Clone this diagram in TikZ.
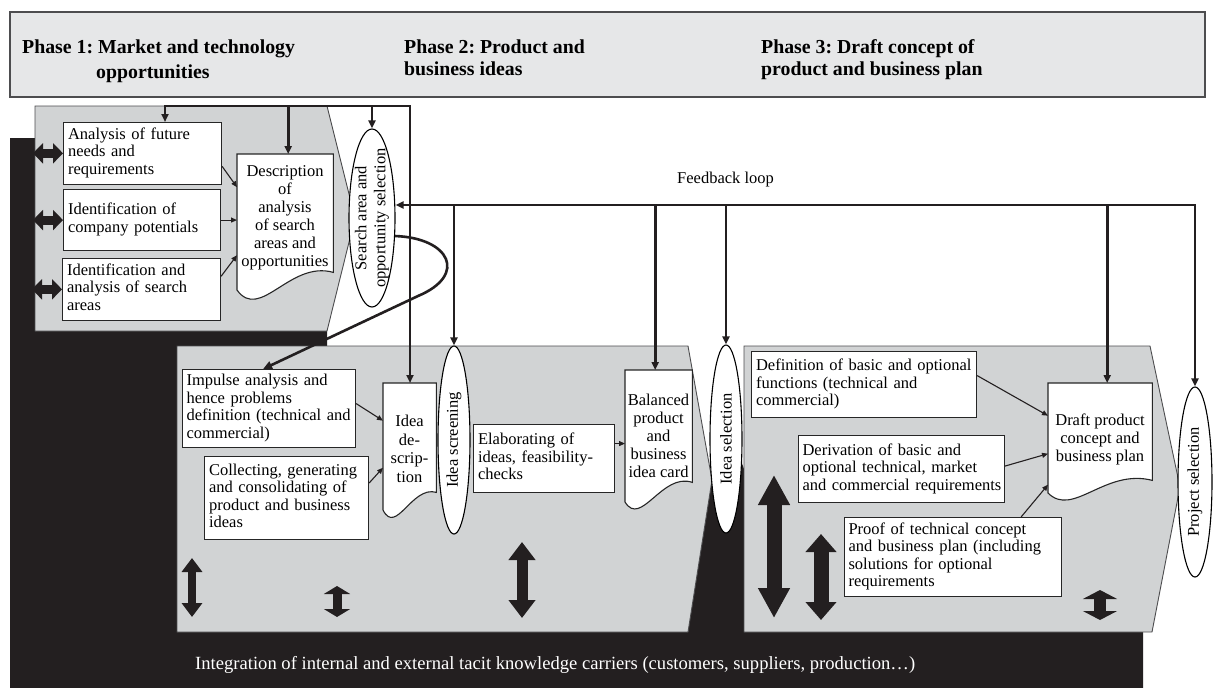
\documentclass[tikz,border=0pt]{standalone}
\usepackage{fontspec}
\usepackage{graphicx}
\setmainfont{Liberation Serif}
\usetikzlibrary{shapes.geometric,arrows.meta}
\definecolor{inkblack}{HTML}{231F20}
\definecolor{panelgrey}{HTML}{D1D3D4}
\definecolor{headgrey}{HTML}{E6E7E8}
\definecolor{edgegrey}{HTML}{4D4D4F}
\newcommand{\bodyfont}{\fontsize{16.5}{17.5}\selectfont}
\newcommand{\docfont}{\fontsize{16.5}{18}\selectfont}
\newcommand{\gatefont}{\fontsize{16.5}{19}\selectfont}
\newcommand{\headfont}{\fontsize{19.8}{22}\selectfont\bfseries}
% left-aligned lines that never wrap
\newcommand{\boxlines}[1]{\begin{tabular}{@{}l@{}}#1\end{tabular}}
\begin{document}
\frenchspacing
\begin{tikzpicture}[x=1pt,y=-1pt,
  panel/.style={fill=panelgrey, draw=edgegrey, line width=0.9pt},
  txtbox/.style={draw=black!85, fill=white, line width=1.1pt, anchor=north west,
    align=left, inner sep=4.5pt, font=\bodyfont},
  docbox/.style={draw=none, anchor=north west, inner sep=0pt},
  docline/.style={draw=black!85, fill=white, line width=1.1pt},
  doctext/.style={align=center, font=\docfont, inner sep=0pt},
  gate/.style={ellipse, draw=black, fill=white, line width=1.1pt, inner sep=0pt},
  gatetext/.style={font=\gatefont, inner sep=0pt},
  fbline/.style={draw=inkblack, line width=2.6pt},
  fbarrow/.style={fbline, -{Triangle[length=8pt,width=7pt]}},
  link/.style={draw=inkblack, line width=1.1pt, -{Triangle[length=6pt,width=5pt]}},
  dbl/.style n args={3}{draw=inkblack, line width=#1,
    {Triangle[length=#2,width=#3]}-{Triangle[length=#2,width=#3]}},
  headtext/.style={font=\headfont, anchor=base west, inner sep=0pt},
]
\useasboundingbox (0,0) rectangle (1216,688);

% black band of tacit knowledge carriers
\fill[inkblack] (10,138) -- (40,138) -- (40,320) -- (327,320) -- (327,346.5)
  -- (200,346.5) -- (200,620) -- (650,620) -- (650,490) -- (712,480)
  -- (727,420) -- (745,472) -- (750,472) -- (750,620) -- (1143,620)
  -- (1143,688) -- (10,688) -- cycle;

% phase panels
\path[panel] (35,106) -- (327,106) -- (355,218) -- (327,331) -- (35,331) -- cycle;
\path[panel] (177,346) -- (688,346) -- (712,480) -- (688,632) -- (177,632) -- cycle;
\path[panel] (744,346) -- (1150,346) -- (1180,487) -- (1152,632) -- (744,632) -- cycle;

% header
\path[draw=edgegrey, fill=headgrey, line width=1.3pt] (10,12) rectangle (1205,97);
\node[headtext] (ph1a) at (22,53) {Phase 1: Market and technology};
\node[headtext] (ph1b) at (96,78) {opportunities};
\node[headtext] (ph2a) at (404,53) {Phase 2: Product and};
\node[headtext] (ph2b) at (404,75) {business ideas};
\node[headtext] (ph3a) at (761,53) {Phase 3: Draft concept of};
\node[headtext] (ph3b) at (761,75) {product and business plan};

% phase 1 boxes
\node[txtbox, text width=149pt, minimum height=60pt] (a1) at (63,122)
  {\boxlines{Analysis of future\\needs and\\requirements}};
\node[txtbox, text width=148pt, minimum height=61pt] (a2) at (63,189)
  {\boxlines{Identification of\\company potentials}};
\node[txtbox, text width=149pt, minimum height=61pt] (a3) at (62,258)
  {\boxlines{Identification and\\analysis of search\\areas}};

\node[docbox, minimum width=96pt, minimum height=118pt] (desc) at (237,154) {};
\path[docline] (desc.north west) -- (desc.north east) -- (desc.south east)
  .. controls (290,260) and (260,322) .. (237,290) -- cycle;
\node[doctext] (desctxt) at (285,218)
  {Description\\of\\analysis\\of search\\areas and\\opportunities};

% phase 2 boxes
\node[txtbox, text width=165pt, minimum height=76pt, inner sep=4pt] (p1) at (182,369)
  {\boxlines{Impulse analysis and\\hence problems\\definition (technical and\\commercial)}};
\node[txtbox, text width=155pt, minimum height=83pt] (p2) at (204,456)
  {\boxlines{Collecting, generating\\and consolidating of\\product and business\\ideas}};

\node[docbox, minimum width=53pt, minimum height=109pt] (ideadesc) at (383,383) {};
\path[docline] (ideadesc.north west) -- (ideadesc.north east) -- (ideadesc.south east)
  .. controls (412,485) and (396,536) .. (383,510) -- cycle;
\node[doctext, font=\fontsize{16.5}{18.5}\selectfont] (ideadesctxt) at (409.5,449)
  {Idea\\de-\\scrip-\\tion};

\node[txtbox, text width=132pt, minimum height=68pt] (elab) at (473,424)
  {\boxlines{Elaborating of\\ideas, feasibility-\\checks}};

\node[docbox, minimum width=67pt, minimum height=112pt] (card) at (625,370) {};
\path[docline] (card.north west) -- (card.north east) -- (card.south east)
  .. controls (662,472) and (641,528) .. (625,502) -- cycle;
\node[doctext] (cardtxt) at (658.5,436)
  {Balanced\\product\\and\\business\\idea card};

% phase 3 boxes
\node[txtbox, text width=216pt, minimum height=66pt] (d1) at (751,351)
  {\boxlines{Definition of basic and optional\\functions (technical and\\commercial)}};
\node[txtbox, text width=198pt, minimum height=67pt, inner sep=4pt] (d2) at (798,435)
  {\boxlines{Derivation of basic and\\optional technical, market\\and commercial requirements}};
\node[txtbox, text width=209pt, minimum height=79pt, inner sep=4pt] (d3) at (844,517)
  {\boxlines{Proof of technical concept\\and business plan (including\\solutions for optional\\requirements}};

\node[docbox, minimum width=104pt, minimum height=97pt] (draft) at (1048,383) {};
\path[docline] (draft.north west) -- (draft.north east) -- (draft.south east)
  .. controls (1105,468) and (1073,518) .. (1048,493) -- cycle;
\node[doctext] (drafttxt) at (1100,439)
  {Draft product\\concept and\\business plan};

% selection gates
\node[gate, minimum width=46pt, minimum height=178pt] (search) at (372,218) {};
\node[gatetext] (searchtxt) at (search.center)
  {\rotatebox{90}{\begin{tabular}{@{}c@{}}Search area and\\opportunity selection\end{tabular}}};
\node[gate, minimum width=32pt, minimum height=188pt] (screening) at (454,440) {};
\node[gatetext] (screeningtxt) at (screening.center) {\rotatebox{90}{Idea screening}};
\node[gate, minimum width=32pt, minimum height=188pt] (selection) at (726,439) {};
\node[gatetext] (selectiontxt) at (selection.center) {\rotatebox{90}{Idea selection}};
\node[gate, minimum width=34pt, minimum height=190pt] (project) at (1195,482) {};
\node[gatetext] (projecttxt) at (project.center) {\rotatebox{90}{Project selection}};

% top distribution line of phase 1
\coordinate (tl) at (165,106);
\coordinate (tr) at (410,106);
\draw[fbline, {Triangle[length=8pt,width=7pt]}-{Triangle[length=8pt,width=7pt]}]
  (a1.north -| tl) -- (tl) -- (tr) -- (ideadesc.north -| tr);
\draw[fbarrow] ([xshift=3pt]desc.north |- tl) -- ([xshift=3pt]desc.north);
\draw[fbarrow] (search.north |- tl) -- (search.north);

% feedback loop
\coordinate (fbR) at (1195,205);
\draw[fbline, {Triangle[length=8pt,width=7pt]}-{Triangle[length=8pt,width=7pt]}]
  (search.east |- fbR) -- (project.north |- fbR) -- (project.north);
\draw[fbarrow] (screening.north |- fbR) -- (screening.north);
\draw[fbarrow] ([xshift=-3.5pt]card.north |- fbR) -- ([xshift=-3.5pt]card.north);
\draw[fbarrow] (selection.north |- fbR) -- (selection.north);
\draw[fbarrow] ([xshift=7pt]draft.north |- fbR) -- ([xshift=7pt]draft.north);
\node[font=\bodyfont, anchor=base west, inner sep=0pt] (fblabel) at (677,183) {Feedback loop};

% impulse from search area selection to phase 2
\draw[fbline, -{Triangle[length=9pt,width=8pt]}] (search.-38)
  .. controls (450,238) and (468,275) .. (418,296) -- ([xshift=-6pt]p1.north);

% thin connectors into the description documents
\draw[link] ([yshift=-13pt]a1.east) -- ([yshift=26pt]desc.west);
\draw[link] (a2.east) -- (a2.east -| desc.west);
\draw[link] ([yshift=13pt]a3.east) -- ([yshift=-42pt]desc.west);
\draw[link] ([yshift=5pt]p1.east) -- ([yshift=17pt]ideadesc.west);
\draw[link] ([yshift=15pt]p2.east) -- ([yshift=-30pt]ideadesc.west);
\draw[link] ([yshift=15pt]elab.east) -- ([yshift=15pt]elab.east -| card.west);
\draw[link] ([yshift=9pt]d1.east) -- ([yshift=16pt]draft.west);
\draw[link] ([yshift=3pt]d2.east) -- ([yshift=-22pt]draft.west);
\draw[link] ([xshift=-41pt]d3.north east) -- ([yshift=-53pt]draft.west);

% exchange with knowledge carriers
\draw[dbl={9pt}{10pt}{20pt}] (a1.west) -- ++(-30,0);
\draw[dbl={9pt}{10pt}{20pt}] (a2.west) -- ++(-30,0);
\draw[dbl={9pt}{10pt}{20pt}] (a3.west) -- ++(-30,0);
\draw[dbl={8pt}{14pt}{20pt}] (192,558) -- (192,617);
\draw[dbl={9pt}{8pt}{26pt}] (337,586) -- (337,617);
\draw[dbl={11pt}{18pt}{26pt}] (522,542) -- (522,618);
\draw[dbl={15pt}{30pt}{30pt}] (774,475) -- (774,618);
\draw[dbl={15pt}{18pt}{30pt}] (821,534) -- (821,620);
\draw[dbl={12pt}{9pt}{34pt}] (1100,590) -- (1100,620);

\node[font=\fontsize{18.6}{20}\selectfont, text=white, anchor=base west, inner sep=0pt] (integ)
  at (195,669) {Integration of internal and external tacit knowledge carriers (customers, suppliers, production…)};
\end{tikzpicture}
\end{document}
